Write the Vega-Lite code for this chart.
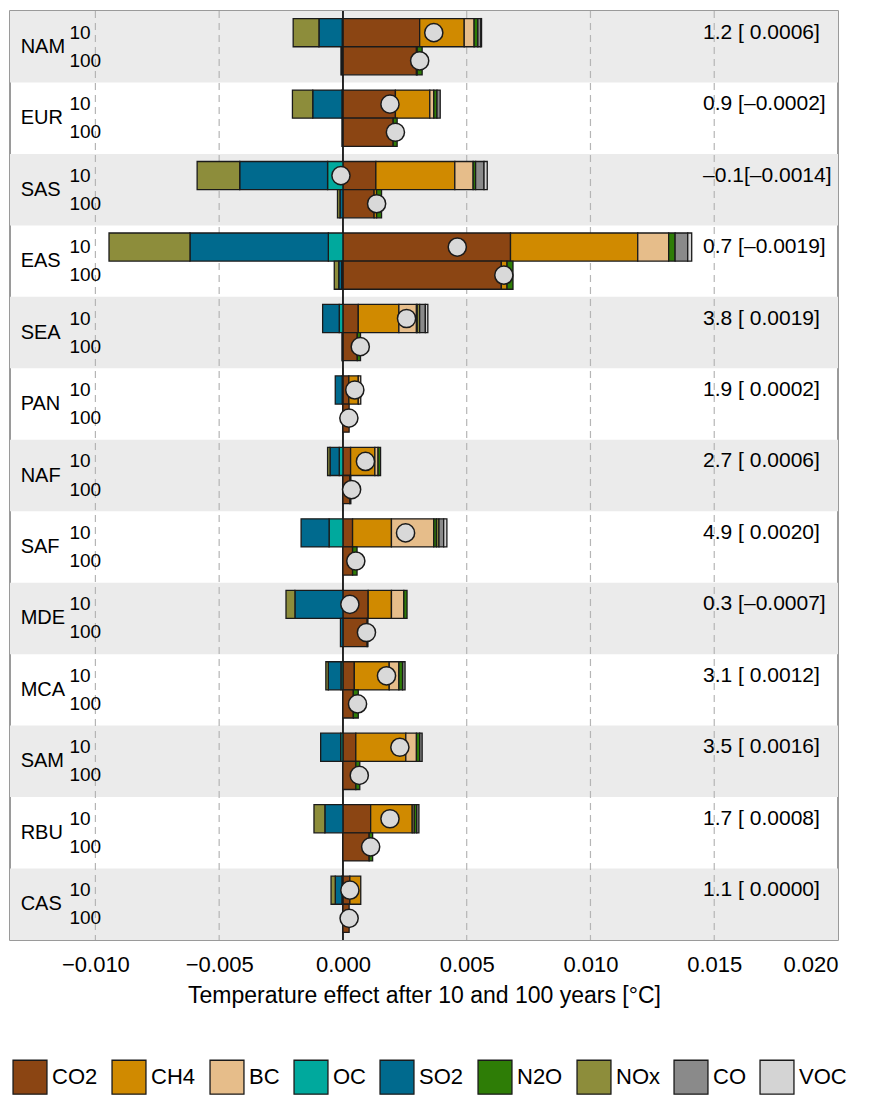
{
  "$schema": "https://vega.github.io/schema/vega-lite/v6.json",
  "width": 828,
  "height": 929,
  "autosize": "none",
  "padding": {"left": 10, "top": 11, "right": 34, "bottom": 157},
  "background": "white",
  "config": {
    "view": {"stroke": "#7a7a7a", "strokeWidth": 1.5},
    "font": "Liberation Sans, Arial, sans-serif",
    "text": {"font": "Liberation Sans, Arial, sans-serif", "color": "black"}
  },
  "datasets": {
    "shaded": [{"region": "NAM"}, {"region": "SAS"}, {"region": "SEA"}, {"region": "NAF"}, {"region": "MDE"}, {"region": "SAM"}, {"region": "CAS"}],
    "grid": [{"t": -0.01}, {"t": -0.005}, {"t": 0.005}, {"t": 0.01}, {"t": 0.015}],
    "gases": [
      {"gas": "CO2", "k": 1}, {"gas": "CH4", "k": 2}, {"gas": "BC", "k": 3}, {"gas": "OC", "k": 4}, {"gas": "SO2", "k": 5},
      {"gas": "N2O", "k": 6}, {"gas": "NOx", "k": 7}, {"gas": "CO", "k": 8}, {"gas": "VOC", "k": 9}
    ],
    "regions": [
      {"region": "NAM", "note": "1.2  [ 0.0006]"},
      {"region": "EUR", "note": "0.9  [–0.0002]"},
      {"region": "SAS", "note": "–0.1[–0.0014]"},
      {"region": "EAS", "note": "0.7  [–0.0019]"},
      {"region": "SEA", "note": "3.8  [ 0.0019]"},
      {"region": "PAN", "note": "1.9  [ 0.0002]"},
      {"region": "NAF", "note": "2.7  [ 0.0006]"},
      {"region": "SAF", "note": "4.9  [ 0.0020]"},
      {"region": "MDE", "note": "0.3  [–0.0007]"},
      {"region": "MCA", "note": "3.1  [ 0.0012]"},
      {"region": "SAM", "note": "3.5  [ 0.0016]"},
      {"region": "RBU", "note": "1.7  [ 0.0008]"},
      {"region": "CAS", "note": "1.1  [ 0.0000]"}
    ],
    "net": [
      {"region": "NAM", "h": "10", "net": 0.00367}, {"region": "NAM", "h": "100", "net": 0.0031},
      {"region": "EUR", "h": "10", "net": 0.0019}, {"region": "EUR", "h": "100", "net": 0.00212},
      {"region": "SAS", "h": "10", "net": -0.00008}, {"region": "SAS", "h": "100", "net": 0.00136},
      {"region": "EAS", "h": "10", "net": 0.00462}, {"region": "EAS", "h": "100", "net": 0.0065},
      {"region": "SEA", "h": "10", "net": 0.00257}, {"region": "SEA", "h": "100", "net": 0.0007},
      {"region": "PAN", "h": "10", "net": 0.00048}, {"region": "PAN", "h": "100", "net": 0.00024},
      {"region": "NAF", "h": "10", "net": 0.00091}, {"region": "NAF", "h": "100", "net": 0.00035},
      {"region": "SAF", "h": "10", "net": 0.00253}, {"region": "SAF", "h": "100", "net": 0.00052},
      {"region": "MDE", "h": "10", "net": 0.00028}, {"region": "MDE", "h": "100", "net": 0.00095},
      {"region": "MCA", "h": "10", "net": 0.00176}, {"region": "MCA", "h": "100", "net": 0.00059},
      {"region": "SAM", "h": "10", "net": 0.0023}, {"region": "SAM", "h": "100", "net": 0.00066},
      {"region": "RBU", "h": "10", "net": 0.0019}, {"region": "RBU", "h": "100", "net": 0.00112},
      {"region": "CAS", "h": "10", "net": 0.00028}, {"region": "CAS", "h": "100", "net": 0.00025}
    ],
    "emis": [
      {"region": "NAM", "h": "10", "gas": "CO2", "v": 0.0031},
      {"region": "NAM", "h": "10", "gas": "CH4", "v": 0.0018},
      {"region": "NAM", "h": "10", "gas": "BC", "v": 0.0004},
      {"region": "NAM", "h": "10", "gas": "OC", "v": -0.00003},
      {"region": "NAM", "h": "10", "gas": "SO2", "v": -0.00094},
      {"region": "NAM", "h": "10", "gas": "N2O", "v": 0.00015},
      {"region": "NAM", "h": "10", "gas": "NOx", "v": -0.00104},
      {"region": "NAM", "h": "10", "gas": "CO", "v": 0.00012},
      {"region": "NAM", "h": "10", "gas": "VOC", "v": 0.00003},
      {"region": "NAM", "h": "100", "gas": "CO2", "v": 0.00297},
      {"region": "NAM", "h": "100", "gas": "CH4", "v": 0.00003},
      {"region": "NAM", "h": "100", "gas": "N2O", "v": 0.0002},
      {"region": "NAM", "h": "100", "gas": "SO2", "v": -0.00005},
      {"region": "NAM", "h": "100", "gas": "OC", "v": -0.00003},

      {"region": "EUR", "h": "10", "gas": "CO2", "v": 0.00212},
      {"region": "EUR", "h": "10", "gas": "CH4", "v": 0.00139},
      {"region": "EUR", "h": "10", "gas": "BC", "v": 0.00016},
      {"region": "EUR", "h": "10", "gas": "OC", "v": -0.00004},
      {"region": "EUR", "h": "10", "gas": "SO2", "v": -0.00118},
      {"region": "EUR", "h": "10", "gas": "N2O", "v": 0.00013},
      {"region": "EUR", "h": "10", "gas": "NOx", "v": -0.00082},
      {"region": "EUR", "h": "10", "gas": "CO", "v": 0.00013},
      {"region": "EUR", "h": "100", "gas": "CO2", "v": 0.00203},
      {"region": "EUR", "h": "100", "gas": "N2O", "v": 0.00016},
      {"region": "EUR", "h": "100", "gas": "SO2", "v": -0.00004},

      {"region": "SAS", "h": "10", "gas": "CO2", "v": 0.00133},
      {"region": "SAS", "h": "10", "gas": "CH4", "v": 0.00319},
      {"region": "SAS", "h": "10", "gas": "BC", "v": 0.00074},
      {"region": "SAS", "h": "10", "gas": "OC", "v": -0.00062},
      {"region": "SAS", "h": "10", "gas": "SO2", "v": -0.00355},
      {"region": "SAS", "h": "10", "gas": "N2O", "v": 0.0001},
      {"region": "SAS", "h": "10", "gas": "NOx", "v": -0.00172},
      {"region": "SAS", "h": "10", "gas": "CO", "v": 0.00034},
      {"region": "SAS", "h": "10", "gas": "VOC", "v": 0.00013},
      {"region": "SAS", "h": "100", "gas": "CO2", "v": 0.00126},
      {"region": "SAS", "h": "100", "gas": "CH4", "v": 0.0001},
      {"region": "SAS", "h": "100", "gas": "N2O", "v": 0.0002},
      {"region": "SAS", "h": "100", "gas": "SO2", "v": -0.00012},
      {"region": "SAS", "h": "100", "gas": "NOx", "v": -0.0001},

      {"region": "EAS", "h": "10", "gas": "CO2", "v": 0.00677},
      {"region": "EAS", "h": "10", "gas": "CH4", "v": 0.00514},
      {"region": "EAS", "h": "10", "gas": "BC", "v": 0.00125},
      {"region": "EAS", "h": "10", "gas": "OC", "v": -0.00059},
      {"region": "EAS", "h": "10", "gas": "SO2", "v": -0.00559},
      {"region": "EAS", "h": "10", "gas": "N2O", "v": 0.00026},
      {"region": "EAS", "h": "10", "gas": "NOx", "v": -0.00327},
      {"region": "EAS", "h": "10", "gas": "CO", "v": 0.00051},
      {"region": "EAS", "h": "10", "gas": "VOC", "v": 0.00016},
      {"region": "EAS", "h": "100", "gas": "CO2", "v": 0.0064},
      {"region": "EAS", "h": "100", "gas": "CH4", "v": 0.00023},
      {"region": "EAS", "h": "100", "gas": "N2O", "v": 0.00024},
      {"region": "EAS", "h": "100", "gas": "OC", "v": -0.00005},
      {"region": "EAS", "h": "100", "gas": "SO2", "v": -0.00012},
      {"region": "EAS", "h": "100", "gas": "NOx", "v": -0.00018},

      {"region": "SEA", "h": "10", "gas": "CO2", "v": 0.00062},
      {"region": "SEA", "h": "10", "gas": "CH4", "v": 0.00164},
      {"region": "SEA", "h": "10", "gas": "BC", "v": 0.00071},
      {"region": "SEA", "h": "10", "gas": "OC", "v": -0.00015},
      {"region": "SEA", "h": "10", "gas": "SO2", "v": -0.00067},
      {"region": "SEA", "h": "10", "gas": "N2O", "v": 0.00003},
      {"region": "SEA", "h": "10", "gas": "NOx", "v": 0.0001},
      {"region": "SEA", "h": "10", "gas": "CO", "v": 0.00023},
      {"region": "SEA", "h": "10", "gas": "VOC", "v": 0.0001},
      {"region": "SEA", "h": "100", "gas": "CO2", "v": 0.00058},
      {"region": "SEA", "h": "100", "gas": "N2O", "v": 0.00013},
      {"region": "SEA", "h": "100", "gas": "SO2", "v": -0.00004},

      {"region": "PAN", "h": "10", "gas": "CO2", "v": 0.00024},
      {"region": "PAN", "h": "10", "gas": "CH4", "v": 0.00038},
      {"region": "PAN", "h": "10", "gas": "BC", "v": 0.0001},
      {"region": "PAN", "h": "10", "gas": "OC", "v": -0.00003},
      {"region": "PAN", "h": "10", "gas": "SO2", "v": -0.00028},
      {"region": "PAN", "h": "100", "gas": "CO2", "v": 0.00025},

      {"region": "NAF", "h": "10", "gas": "CO2", "v": 0.00031},
      {"region": "NAF", "h": "10", "gas": "CH4", "v": 0.00098},
      {"region": "NAF", "h": "10", "gas": "BC", "v": 0.00013},
      {"region": "NAF", "h": "10", "gas": "OC", "v": -0.00015},
      {"region": "NAF", "h": "10", "gas": "SO2", "v": -0.00037},
      {"region": "NAF", "h": "10", "gas": "N2O", "v": 0.0001},
      {"region": "NAF", "h": "10", "gas": "NOx", "v": -0.0001},
      {"region": "NAF", "h": "100", "gas": "CO2", "v": 0.00028},
      {"region": "NAF", "h": "100", "gas": "N2O", "v": 0.00004},

      {"region": "SAF", "h": "10", "gas": "CO2", "v": 0.00039},
      {"region": "SAF", "h": "10", "gas": "CH4", "v": 0.00157},
      {"region": "SAF", "h": "10", "gas": "BC", "v": 0.00171},
      {"region": "SAF", "h": "10", "gas": "OC", "v": -0.00056},
      {"region": "SAF", "h": "10", "gas": "SO2", "v": -0.00113},
      {"region": "SAF", "h": "10", "gas": "N2O", "v": 0.00011},
      {"region": "SAF", "h": "10", "gas": "NOx", "v": 0.0001},
      {"region": "SAF", "h": "10", "gas": "CO", "v": 0.00019},
      {"region": "SAF", "h": "10", "gas": "VOC", "v": 0.00013},
      {"region": "SAF", "h": "100", "gas": "CO2", "v": 0.00039},
      {"region": "SAF", "h": "100", "gas": "N2O", "v": 0.00018},

      {"region": "MDE", "h": "10", "gas": "CO2", "v": 0.00102},
      {"region": "MDE", "h": "10", "gas": "CH4", "v": 0.00094},
      {"region": "MDE", "h": "10", "gas": "BC", "v": 0.0005},
      {"region": "MDE", "h": "10", "gas": "SO2", "v": -0.00194},
      {"region": "MDE", "h": "10", "gas": "N2O", "v": 0.00013},
      {"region": "MDE", "h": "10", "gas": "NOx", "v": -0.00036},
      {"region": "MDE", "h": "100", "gas": "CO2", "v": 0.00098},
      {"region": "MDE", "h": "100", "gas": "N2O", "v": 0.00003},
      {"region": "MDE", "h": "100", "gas": "SO2", "v": -0.0001},

      {"region": "MCA", "h": "10", "gas": "CO2", "v": 0.00046},
      {"region": "MCA", "h": "10", "gas": "CH4", "v": 0.00141},
      {"region": "MCA", "h": "10", "gas": "BC", "v": 0.00039},
      {"region": "MCA", "h": "10", "gas": "OC", "v": -0.00008},
      {"region": "MCA", "h": "10", "gas": "SO2", "v": -0.00051},
      {"region": "MCA", "h": "10", "gas": "N2O", "v": 0.00015},
      {"region": "MCA", "h": "10", "gas": "NOx", "v": -0.0001},
      {"region": "MCA", "h": "10", "gas": "CO", "v": 0.0001},
      {"region": "MCA", "h": "100", "gas": "CO2", "v": 0.00042},
      {"region": "MCA", "h": "100", "gas": "N2O", "v": 0.0002},

      {"region": "SAM", "h": "10", "gas": "CO2", "v": 0.00052},
      {"region": "SAM", "h": "10", "gas": "CH4", "v": 0.00202},
      {"region": "SAM", "h": "10", "gas": "BC", "v": 0.00043},
      {"region": "SAM", "h": "10", "gas": "OC", "v": -0.00009},
      {"region": "SAM", "h": "10", "gas": "SO2", "v": -0.00081},
      {"region": "SAM", "h": "10", "gas": "N2O", "v": 0.00013},
      {"region": "SAM", "h": "10", "gas": "CO", "v": 0.0001},
      {"region": "SAM", "h": "100", "gas": "CO2", "v": 0.00052},
      {"region": "SAM", "h": "100", "gas": "N2O", "v": 0.00016},

      {"region": "RBU", "h": "10", "gas": "CO2", "v": 0.00112},
      {"region": "RBU", "h": "10", "gas": "CH4", "v": 0.00168},
      {"region": "RBU", "h": "10", "gas": "BC", "v": 0.00008},
      {"region": "RBU", "h": "10", "gas": "SO2", "v": -0.00073},
      {"region": "RBU", "h": "10", "gas": "N2O", "v": 0.0001},
      {"region": "RBU", "h": "10", "gas": "NOx", "v": -0.00044},
      {"region": "RBU", "h": "10", "gas": "CO", "v": 0.00009},
      {"region": "RBU", "h": "100", "gas": "CO2", "v": 0.00106},
      {"region": "RBU", "h": "100", "gas": "N2O", "v": 0.00014},

      {"region": "CAS", "h": "10", "gas": "CO2", "v": 0.00028},
      {"region": "CAS", "h": "10", "gas": "CH4", "v": 0.00044},
      {"region": "CAS", "h": "10", "gas": "OC", "v": -0.00004},
      {"region": "CAS", "h": "10", "gas": "SO2", "v": -0.00027},
      {"region": "CAS", "h": "10", "gas": "NOx", "v": -0.00017},
      {"region": "CAS", "h": "100", "gas": "CO2", "v": 0.00025}
    ]
  },
  "layer": [
    {
      "data": {"name": "shaded"},
      "mark": {"type": "rect", "fill": "#ebebeb"},
      "encoding": {
        "y": {"field": "region", "type": "nominal", "axis": null,
              "scale": {"domain": ["NAM","EUR","SAS","EAS","SEA","PAN","NAF","SAF","MDE","MCA","SAM","RBU","CAS"], "paddingInner": 0, "paddingOuter": 0}},
        "x": {"datum": -0.01345, "type": "quantitative", "scale": {"domain": [-0.01345, 0.02], "nice": false, "zero": false}},
        "x2": {"datum": 0.02}
      }
    },
    {
      "data": {"name": "grid"},
      "mark": {"type": "rule", "color": "#b5b5b5", "strokeWidth": 1.2, "strokeDash": [7, 5]},
      "encoding": {"x": {"field": "t", "type": "quantitative"}}
    },
    {
      "data": {"name": "grid"},
      "mark": {"type": "rule", "color": "#222222", "strokeWidth": 1},
      "encoding": {"x": {"datum": 0, "type": "quantitative"}}
    },
    {
      "data": {"name": "emis"},
      "transform": [{"lookup": "gas", "from": {"data": {"name": "gases"}, "key": "gas", "fields": ["k"]}}],
      "mark": {"type": "bar", "stroke": "#1a1a1a", "strokeWidth": 1.3},
      "encoding": {
        "y": {"field": "region", "type": "nominal", "axis": null,
              "scale": {"domain": ["NAM","EUR","SAS","EAS","SEA","PAN","NAF","SAF","MDE","MCA","SAM","RBU","CAS"], "paddingInner": 0, "paddingOuter": 0}},
        "yOffset": {"field": "h", "type": "nominal", "scale": {"domain": ["10", "100"], "paddingInner": 0, "paddingOuter": 0.27}},
        "x": {"field": "v", "type": "quantitative", "stack": "zero",
              "axis": {"values": [-0.01, -0.005, 0, 0.005, 0.01, 0.015, 0.02], "format": ".3f", "grid": false, "ticks": false, "domain": false,
                       "labelFontSize": 22, "labelColor": "black", "labelPadding": 14, "labelFlush": true,
                       "title": "Temperature effect after 10 and 100 years [°C]", "titleFontSize": 23, "titleFontWeight": "normal", "titleColor": "black", "titlePadding": 9}},
        "color": {"field": "gas", "type": "nominal",
                  "scale": {"domain": ["CO2","CH4","BC","OC","SO2","N2O","NOx","CO","VOC"],
                            "range": ["#8b4513","#d08a00","#e6bd8a","#00a99d","#006a8e","#2e7d06","#8d8d3b","#8a8a8a","#d4d4d4"]},
                  "legend": {"orient": "none", "legendX": 2, "legendY": 1048, "direction": "horizontal", "columns": 9, "title": null,
                             "symbolType": "square", "symbolSize": 1150, "symbolStrokeColor": "#1a1a1a", "symbolStrokeWidth": 1.3, "symbolOpacity": 1,
                             "labelFontSize": 22, "labelColor": "black", "labelOffset": 4, "columnPadding": 11}},
        "order": {"field": "k", "type": "quantitative", "sort": "ascending"}
      }
    },
    {
      "data": {"name": "net"},
      "mark": {"type": "circle", "fill": "#d9d9d9", "stroke": "#1a1a1a", "strokeWidth": 1.5, "opacity": 1, "size": 330},
      "encoding": {
        "y": {"field": "region", "type": "nominal", "axis": null},
        "yOffset": {"field": "h", "type": "nominal"},
        "x": {"field": "net", "type": "quantitative"}
      }
    },
    {
      "data": {"name": "net"},
      "mark": {"type": "text", "align": "left", "baseline": "middle", "fontSize": 19},
      "encoding": {
        "y": {"field": "region", "type": "nominal", "axis": null},
        "yOffset": {"field": "h", "type": "nominal"},
        "x": {"datum": -0.01105, "type": "quantitative"},
        "text": {"field": "h"}
      }
    },
    {
      "data": {"name": "regions"},
      "mark": {"type": "text", "align": "left", "baseline": "middle", "fontSize": 20},
      "encoding": {
        "y": {"field": "region", "type": "nominal", "axis": null},
        "x": {"datum": -0.01302, "type": "quantitative"},
        "text": {"field": "region"}
      }
    },
    {
      "data": {"name": "regions"},
      "mark": {"type": "text", "align": "left", "baseline": "middle", "fontSize": 21},
      "encoding": {
        "y": {"field": "region", "type": "nominal", "axis": null},
        "yOffset": {"datum": "10", "type": "nominal"},
        "x": {"datum": 0.01455, "type": "quantitative"},
        "text": {"field": "note"}
      }
    }
  ]
}
